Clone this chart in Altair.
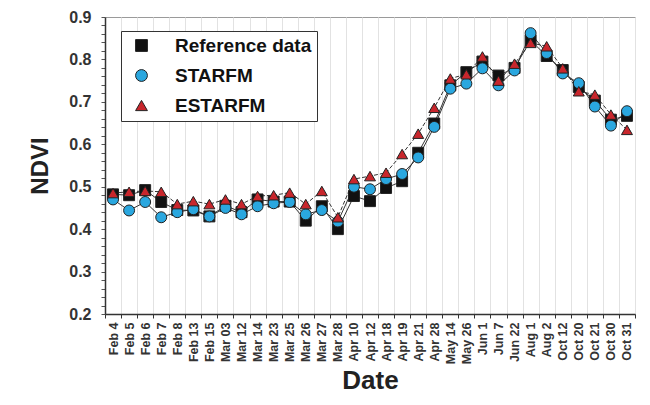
import altair as alt
import pandas as pd

dates = ["Feb 4", "Feb 5", "Feb 6", "Feb 7", "Feb 8", "Feb 13", "Feb 15", "Mar 03",
         "Mar 12", "Mar 14", "Mar 23", "Mar 25", "Mar 26", "Mar 27", "Mar 28", "Apr 10",
         "Apr 12", "Apr 18", "Apr 19", "Apr 21", "Apr 28", "May 14", "May 26", "Jun 1",
         "Jun 7", "Jun 22", "Aug 1", "Aug 2", "Oct 12", "Oct 20", "Oct 21", "Oct 30", "Oct 31"]

reference = [0.482, 0.48, 0.492, 0.464, 0.445, 0.444, 0.43, 0.455, 0.44, 0.47,
             0.465, 0.465, 0.42, 0.454, 0.40, 0.478, 0.466, 0.497, 0.513, 0.58,
             0.649, 0.739, 0.77, 0.795, 0.762, 0.78, 0.845, 0.808, 0.775, 0.735,
             0.703, 0.658, 0.667]
starfm = [0.47, 0.444, 0.464, 0.428, 0.44, 0.447, 0.43, 0.45, 0.435, 0.454,
          0.461, 0.464, 0.435, 0.445, 0.418, 0.5, 0.494, 0.518, 0.53, 0.569,
          0.641, 0.731, 0.743, 0.779, 0.739, 0.774, 0.862, 0.815, 0.767, 0.744,
          0.689, 0.644, 0.678]
estarfm = [0.485, 0.488, 0.49, 0.488, 0.459, 0.466, 0.459, 0.47, 0.459, 0.478,
           0.48, 0.486, 0.459, 0.49, 0.428, 0.518, 0.525, 0.533, 0.577, 0.625,
           0.686, 0.755, 0.765, 0.807, 0.75, 0.79, 0.839, 0.831, 0.779, 0.725,
           0.717, 0.67, 0.634]

series_names = ["Reference data", "STARFM", "ESTARFM"]
series_values = [reference, starfm, estarfm]
fills = ["#111111", "#2aa7df", "#c8262c"]
shapes = ["square", "circle", "triangle-up"]
y_tick_values = [round(0.2 + 0.02 * i, 2) for i in range(36)]

rows = []
for s, vals in zip(series_names, series_values):
    for i, (d, v) in enumerate(zip(dates, vals)):
        rows.append({"date": d, "series": s, "ndvi": v, "idx": i})
df = pd.DataFrame(rows)

FONT = "Liberation Sans"

x_enc = alt.X(
    "date:N", sort=dates,
    scale=alt.Scale(paddingInner=0, paddingOuter=0),
    axis=alt.Axis(
        title="Date", labelAngle=-90, labelFont=FONT, labelFontWeight="bold",
        labelFontSize=12.5, labelColor="#333333", labelPadding=4,
        tickBand="extent", grid=True, gridColor="#e2e2e2", gridWidth=1,
        tickColor="#333333", tickSize=4, domainColor="#333333", domainWidth=1.5,
        titleFont=FONT, titleFontSize=26, titleFontWeight="bold",
        titleColor="#222222", titlePadding=4,
    ),
)
y_enc = alt.Y(
    "ndvi:Q",
    scale=alt.Scale(domain=[0.2, 0.9], nice=False, zero=False),
    axis=alt.Axis(
        title="NDVI", values=y_tick_values,
        labelExpr="abs(datum.value*10 - round(datum.value*10)) < 0.001 ? format(datum.value, '.1f') : ''",
        labelFont=FONT, labelFontWeight="bold", labelFontSize=16,
        labelColor="#333333", labelPadding=10, tickSize=4, tickColor="#555555",
        domainColor="#333333", domainWidth=1.5, grid=False,
        titleFont=FONT, titleFontSize=24, titleFontWeight="bold",
        titleColor="#222222", titlePadding=16,
    ),
)

legend = alt.Legend(
    title=None, orient="none", legendX=16, legendY=14,
    strokeColor="#333333", fillColor="white", padding=5,
    labelFont=FONT, labelFontSize=19, labelFontWeight="bold", labelColor="#111111",
    symbolSize=140, symbolStrokeColor="#222222", symbolStrokeWidth=1,
    symbolOffset=6, rowPadding=10, labelOffset=24, labelLimit=300,
)

solid_lines = alt.Chart(df).transform_filter(
    alt.datum.series != "ESTARFM"
).mark_line(color="#333333", strokeWidth=1).encode(
    x=x_enc, y=y_enc, detail="series:N",
)
dashed_line = alt.Chart(df).transform_filter(
    alt.datum.series == "ESTARFM"
).mark_line(color="#333333", strokeWidth=1, strokeDash=[4, 2]).encode(
    x=x_enc, y=y_enc,
)

points = alt.Chart(df).mark_point(filled=True, size=120, stroke="#222222", strokeWidth=1, opacity=1).encode(
    x=x_enc, y=y_enc,
    shape=alt.Shape("series:N", scale=alt.Scale(domain=series_names, range=shapes), legend=legend),
    color=alt.Color("series:N", scale=alt.Scale(domain=series_names, range=fills), legend=legend),
)

chart = alt.layer(solid_lines, dashed_line, points).properties(
    width=634, height=389,
    padding={"left": 20, "top": 1, "right": 6, "bottom": 3},
    autosize=alt.AutoSizeParams(type="fit", contains="padding"),
    background="white",
).configure_view(stroke="#9a9a9a", strokeWidth=1)

chart.save("out.html", embed_options={"renderer": "svg", "actions": False})
